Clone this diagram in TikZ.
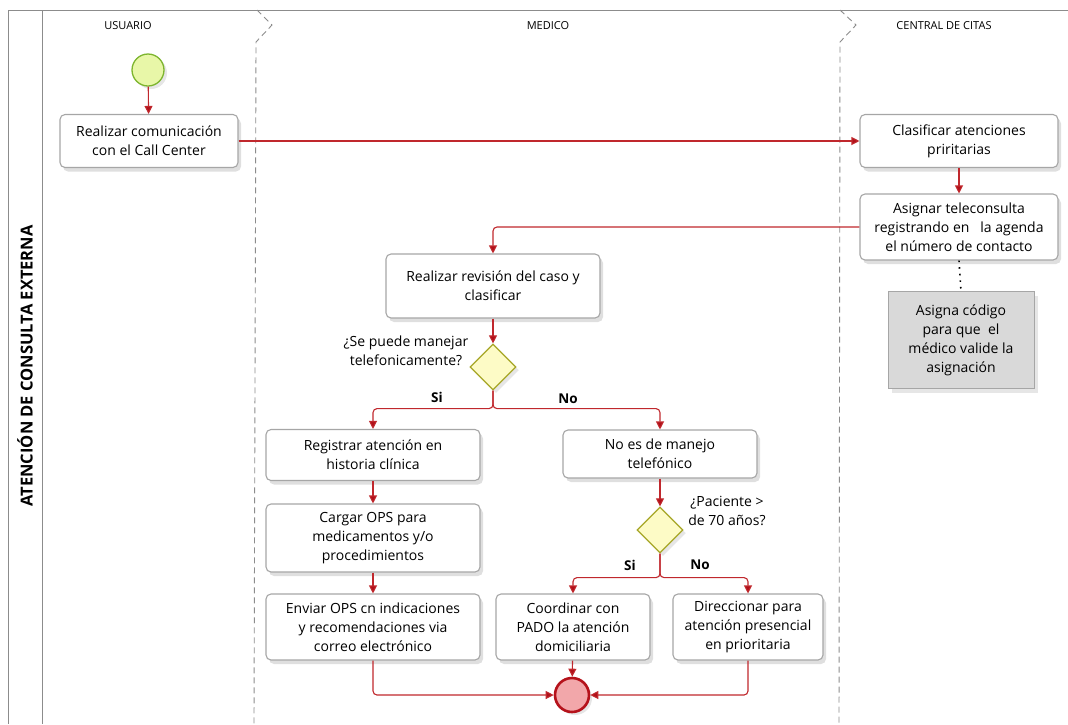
\documentclass[tikz,border=0pt]{standalone}
\usepackage{fontspec}
\setmainfont{Open Sans}
\usepackage{tikz}
\usetikzlibrary{positioning,shapes.geometric,arrows.meta,shadows}
\usepackage{xcolor}
\definecolor{flowRed}{HTML}{C0282D}
\definecolor{tipRed}{HTML}{B0101A}
\definecolor{laneGray}{HTML}{8C8C8C}
\definecolor{boxGray}{HTML}{A6A6A6}
\definecolor{startGreen}{HTML}{E8F7A8}
\definecolor{startEdge}{HTML}{7DB52E}
\definecolor{gateFill}{HTML}{FDFBC6}
\definecolor{gateEdge}{HTML}{A6A626}
\definecolor{endFill}{HTML}{F2A7AA}
\definecolor{endEdge}{HTML}{B5121B}
\definecolor{noteFill}{HTML}{D9D9D9}

\begin{document}
\begin{tikzpicture}[x=1pt, y=-1pt, font=\fontsize{14}{19}\selectfont,
  task/.style={draw=boxGray, line width=1.1pt, rounded corners=5pt, fill=white,
    drop shadow={shadow xshift=3pt, shadow yshift=-4pt, opacity=0.25},
    align=center, inner sep=2pt},
  gate/.style={diamond, draw=gateEdge, line width=1.2pt, fill=gateFill,
    minimum width=46pt, minimum height=46pt, inner sep=0pt,
    drop shadow={shadow xshift=3pt, shadow yshift=-3pt, opacity=0.2}},
  flow/.style={flowRed, line width=1.1pt, rounded corners=4pt,
    -{Triangle[width=8pt,length=8pt,fill=tipRed]}},
  lane/.style={laneGray, line width=0.9pt, dash pattern=on 6pt off 4pt},
  header/.style={font=\fontsize{11}{13}\selectfont},
  answer/.style={font=\fontsize{13.5}{15}\selectfont\bfseries}]
  \useasboundingbox (0,0) rectangle (1068,724);

  % pool frame
  \draw[laneGray, line width=1pt] (1068,10) -- (8,10) -- (8,724);
  \draw[laneGray, line width=1pt] (42,10) -- (42,724);
  \node[rotate=90, font=\fontsize{16.5}{18}\selectfont\bfseries] (pool) at (25,366) {ATENCIÓN DE CONSULTA EXTERNA};

  % lanes
  \draw[lane] (257,10) -- (272,25) -- (256,42) -- (254,724);
  \draw[lane] (840,10) -- (856,25) -- (840,42) -- (839,724);
  \node[header] (usuario) at (128,26) {USUARIO};
  \node[header] (medico) at (548,26) {MEDICO};
  \node[header] (central) at (944,26) {CENTRAL DE CITAS};

  % usuario
  \node[circle, draw=startEdge, line width=1.3pt, fill=startGreen, minimum size=32pt,
    drop shadow={shadow xshift=3pt, shadow yshift=-3pt, opacity=0.2}] (start) at (148,70) {};
  \node[task, minimum width=178pt, minimum height=53pt] (a1) at (149,141)
    {Realizar comunicación\\con el Call Center};

  % central de citas
  \node[task, minimum width=198pt, minimum height=53pt] (c1) at (959,141)
    {Clasificar atenciones\\priritarias};
  \node[task, minimum width=198pt, minimum height=66pt] (c2) at (959,227)
    {Asignar teleconsulta\\registrando en \ \ la agenda\\el número de contacto};
  \node[draw=boxGray, fill=noteFill, minimum width=146pt, minimum height=97pt, align=center,
    drop shadow={shadow xshift=4pt, shadow yshift=-4pt, opacity=0.2}] (note) at (961,340)
    {Asigna código\\para que \ el\\médico valide la\\asignación};

  % medico
  \node[task, minimum width=214pt, minimum height=64pt] (m1) at (493,286)
    {Realizar revisión del caso y\\clasificar};
  \node[gate] (d1) at (493,367) {};
  \node[align=center] (q1) at (406,351) {¿Se puede manejar\\telefonicamente?};
  \node[task, minimum width=214pt, minimum height=51pt] (m2) at (373,455)
    {Registrar atención en\\historia clínica};
  \node[task, minimum width=214pt, minimum height=68pt] (m3) at (373,538)
    {Cargar OPS para\\medicamentos y/o\\procedimientos};
  \node[task, minimum width=214pt, minimum height=66pt] (m4) at (373,627)
    {Enviar OPS cn indicaciones\\y recomendaciones via\\correo electrónico};
  \node[task, minimum width=194pt, minimum height=48pt] (m5) at (660,454)
    {No es de manejo\\telefónico};
  \node[gate] (d2) at (660,530) {};
  \node[align=center] (q2) at (727,511) {¿Paciente >\\de 70 años?};
  \node[task, minimum width=154pt, minimum height=66pt] (m6) at (573,627)
    {Coordinar con\\PADO la atención\\domiciliaria};
  \node[task, minimum width=150pt, minimum height=66pt] (m7) at (748,627)
    {Direccionar para\\atención presencial\\en prioritaria};
  \node[circle, draw=endEdge, line width=2.6pt, fill=endFill, minimum size=34pt, inner sep=0pt,
    drop shadow={shadow xshift=3pt, shadow yshift=-3pt, opacity=0.2}] (stop) at (572,695) {};

  \node[answer] (si1) at (437,397) {Si};
  \node[answer] (no1) at (568,399) {No};
  \node[answer] (si2) at (630,565) {Si};
  \node[answer] (no2) at (700,565) {No};

  % connectors
  \draw[flow] (start) -- (a1);
  \draw[flow] (a1) -- (c1);
  \draw[flow] (c1) -- (c2);
  \draw[flow] (c2.west) -| (m1.north);
  \draw[line width=1.6pt, dash pattern=on 1.6pt off 5pt] (c2.south) -- (note.north);
  \draw[flow] (m1) -- (d1);
  \draw[flow] (d1.south) -- ++(0,18) -| (m2.north);
  \draw[flow] (d1.south) -- ++(0,18) -| (m5.north);
  \draw[flow] (m2) -- (m3);
  \draw[flow] (m3) -- (m4);
  \draw[flow] (m5) -- (d2);
  \draw[flow] (d2.south) -- ++(0,24) -| (m6.north);
  \draw[flow] (d2.south) -- ++(0,24) -| (m7.north);
  \draw[flow] (m6) -- (stop);
  \draw[flow] (m4.south) |- (stop.west);
  \draw[flow] (m7.south) |- (stop.east);
\end{tikzpicture}
\end{document}
